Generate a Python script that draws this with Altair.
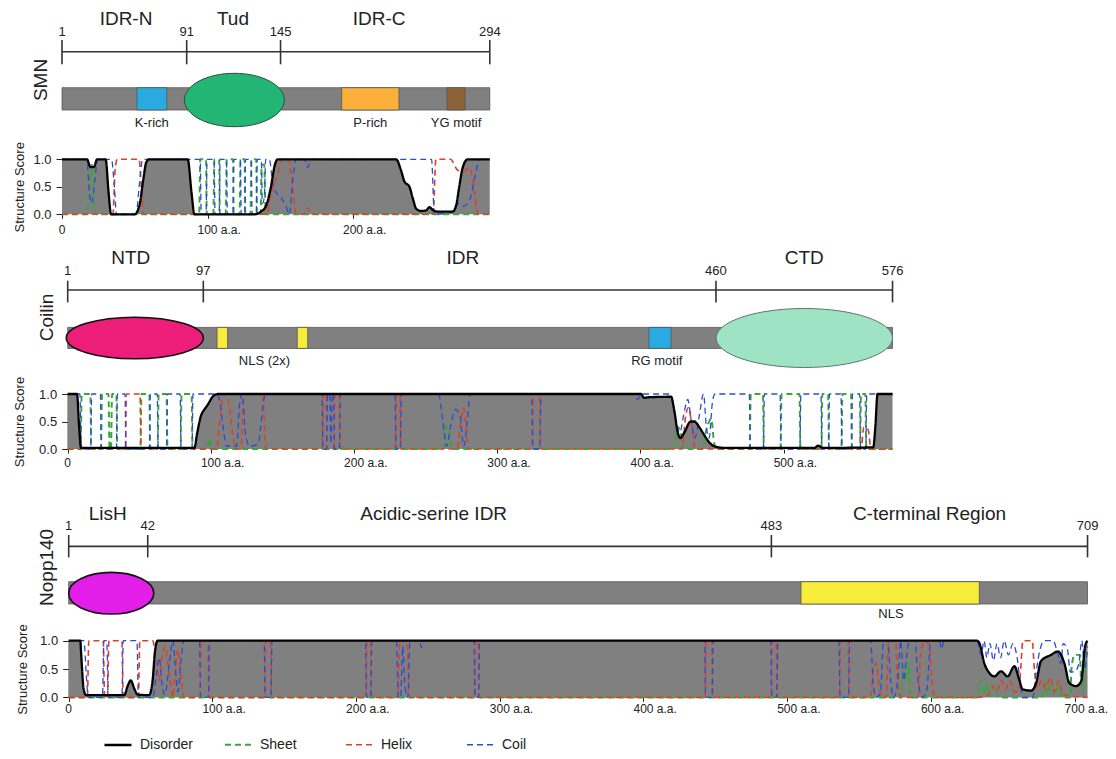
import altair as alt
import pandas as pd

# ------------------------------------------------------------------ data
# SMN
smn_length = 294
smn_ruler_pos = [0, 85.7, 150.2, 294]
smn_ruler_text = ["1", "91", "145", "294"]
smn_region_names = ["IDR-N", "Tud", "IDR-C"]
smn_region_pos = [44, 117.5, 218]
smn_box_names = ["K-rich", "P-rich", "YG motif"]
smn_box_start = [51.5, 192.2, 264.6]
smn_box_end = [72.0, 231.6, 277.0]
smn_label_text = ["K-rich", "P-rich", "YG motif"]
smn_label_pos = [61.7, 211.9, 270.8]
smn_oval_names = ["Tud"]
smn_oval_start = [84.1]
smn_oval_end = [152.8]
smn_axis_ticks = [0, 100, 200]
smn_disorder = [(0, 1), (17.2, 1), (19.5, 0.86), (22, 0.86), (24.1, 1), (30, 1), (32, 0.4), (33.7, 0), (50, 0),
                (53.5, 0.2), (55.7, 0.6), (58, 0.95), (60, 1), (86.4, 1), (89, 0.4), (91, 0), (132.2, 0),
                (136.8, 0.05), (140.2, 0.15), (143.6, 0.5), (146.3, 0.9), (148.2, 1), (229.6, 1), (233, 0.8),
                (235.3, 0.6), (238.8, 0.5), (241, 0.3), (243.5, 0.1), (246.9, 0.06), (250.2, 0.07), (252.5, 0.13),
                (254.8, 0.08), (258.2, 0.05), (268.5, 0.05), (270.8, 0.15), (273, 0.5), (275.4, 0.85), (278.8, 1),
                (294, 1)]
smn_sheet = [(0, 0), (17.5, 0), (19, 0.6), (20.5, 0.9), (22, 0.3), (23.5, 0), (94.3, 0), (95, 1), (99, 1), (99.5, 0),
             (104, 0), (104.7, 1), (108, 1), (108.5, 0), (112.5, 0), (113.2, 1), (117.5, 1), (118, 0), (122, 0),
             (122.7, 1), (125.5, 1), (126, 0), (129.5, 0), (130.2, 1), (133.5, 1), (134, 0), (136.5, 0), (137.2, 0.9),
             (139, 0.9), (140, 0), (294, 0)]
smn_helix = [(0, 0), (35, 0), (36.5, 0.8), (38, 1), (53, 1), (54.5, 0.5), (56, 0), (141, 0), (143, 0.3), (145, 0.5),
             (148, 0.7), (151, 1), (155.5, 1), (158.5, 0.5), (161, 0), (166, 0), (168.8, 0.12), (171, 0), (255, 0),
             (257, 1), (267, 1), (272, 0.8), (276, 0.78), (280, 0.85), (283, 0.5), (286, 0), (294, 0)]
smn_coil = [(0, 1), (17, 1), (19, 0.35), (20.5, 0.2), (22.5, 0.6), (24.5, 1), (34, 1), (36, 0.5), (37.5, 0), (51, 0),
            (53, 0.5), (55.5, 1), (95, 1), (95.7, 0), (99, 0), (99.7, 1), (104.5, 1), (105.2, 0), (108, 0),
            (108.7, 1), (113, 1), (113.7, 0), (117.5, 0), (118.2, 1), (122.5, 1), (123.2, 0), (125.5, 0),
            (126.2, 1), (130, 1), (130.7, 0), (133.5, 0), (134.2, 1), (137, 1), (137.7, 0.2), (139, 0.3), (140, 1),
            (142.5, 1), (144.7, 0.6), (148.2, 0.35), (150.5, 0.3), (153.9, 0.15), (156.2, 0), (158.5, 0.6),
            (160.8, 1), (166.5, 1), (168.8, 0.85), (171, 1), (254, 1), (255.9, 0), (268, 0.05), (272, 0.2),
            (276, 0.15), (280, 0.25), (284, 0.7), (286.8, 1), (294, 1)]

# Coilin
co_length = 576
co_ruler_pos = [0, 94.7, 452.7, 576]
co_ruler_text = ["1", "97", "460", "576"]
co_region_names = ["NTD", "IDR", "CTD"]
co_region_pos = [44, 276, 514.4]
co_box_names = ["NLS", "NLS", "RG motif"]
co_box_start = [104.3, 160.3, 405.9]
co_box_end = [111.7, 167.6, 421.3]
co_label_text = ["NLS (2x)", "RG motif"]
co_label_pos = [137.4, 411.4]
co_oval_names = ["NTD", "CTD"]
co_oval_start = [-1.0, 452.8]
co_oval_end = [94.7, 576]
co_axis_ticks = [0, 100, 200, 300, 400, 500]
co_disorder = [(0, 1), (6.5, 1), (8, 0.4), (9.3, 0.02), (88.4, 0.02), (90.5, 0.3), (93, 0.6), (95.5, 0.72),
               (97.7, 0.8), (101.2, 0.95), (104.7, 1), (400.4, 1), (402.5, 0.93), (405, 0.94), (421.3, 0.95),
               (423.6, 0.7), (426, 0.3), (427.8, 0.2), (430.6, 0.3), (435, 0.5), (437.6, 0.5), (441, 0.4),
               (444.6, 0.25), (448, 0.12), (451.6, 0.05), (458.6, 0.02), (521.5, 0.02), (523.9, 0.06),
               (527.4, 0.02), (562.5, 0.03), (564, 0.4), (565.5, 1), (576, 1)]
co_sheet = [(0, 0), (9, 0), (9.8, 1), (15.8, 1), (16.5, 0), (23.2, 0), (24, 1), (28.5, 1), (29.2, 0), (30.2, 0),
            (31, 1), (34, 1), (34.7, 0), (50.8, 0), (51.5, 1), (57, 1), (57.7, 0), (62.8, 0), (63.5, 1), (69, 1),
            (69.7, 0), (78.8, 0), (79.5, 1), (86.5, 1), (87.2, 0), (97, 0), (99, 0.2), (100.5, 0), (262, 0),
            (264.5, 0.42), (266.5, 0.3), (268, 0), (423, 0), (426, 0.4), (428, 0.3), (430, 0), (443, 0),
            (446, 0.35), (449.5, 0.55), (451, 0.2), (452.5, 0), (476.2, 0), (477, 1), (485.5, 1), (486.2, 0),
            (497.8, 0), (498.5, 1), (511, 1), (511.7, 0), (526.3, 0), (527, 1), (531, 1), (531.7, 0), (540.3, 0),
            (541, 1), (547, 1), (547.7, 0), (553.3, 0), (554, 1), (557, 1), (557.7, 0), (576, 0)]
co_helix = [(0, 0), (40.3, 0), (41, 1), (50.5, 1), (51.2, 0), (104, 0), (106.5, 0.6), (108.5, 1), (112, 0.9),
            (115, 0.3), (117.5, 0), (121, 0), (123, 1), (136, 1), (138.5, 0), (177.8, 0), (178.6, 1), (180.5, 1),
            (181.3, 0), (185.8, 0), (186.6, 1), (189.5, 1), (190.3, 0), (228.8, 0), (229.6, 1), (232, 1),
            (232.8, 0), (272, 0), (274.5, 0.5), (276.5, 0.75), (278.5, 0.3), (280, 0), (324.3, 0), (325.1, 1),
            (329.5, 1), (330.3, 0), (429, 0), (431.5, 0.6), (433.5, 0.75), (436, 0.4), (438, 0), (554, 0),
            (556, 0.4), (559, 0.35), (561, 0), (576, 0)]
co_coil = [(0, 1), (8.5, 1), (9.5, 0), (16, 0), (16.8, 1), (22.8, 1), (23.5, 0), (34, 0), (34.7, 1), (40, 1),
           (40.7, 0), (57, 0), (57.7, 1), (62.5, 1), (63.2, 0), (69, 0), (69.7, 1), (78.5, 1), (79.2, 0), (86.8, 0),
           (87.5, 1), (104, 1), (106, 0.9), (109, 0.3), (111, 0.05), (118, 0.05), (120, 0.8), (122, 1), (124, 0.3),
           (127, 0.05), (133, 0.1), (137, 0.9), (139, 1), (177.5, 1), (178.3, 0), (180.7, 0), (181.5, 1), (183, 1),
           (183.8, 0.1), (184.7, 1), (185.5, 1), (186.3, 0), (189.7, 0), (190.5, 1), (228.5, 1), (229.3, 0),
           (232.2, 0), (233, 1), (259, 1), (262, 0.5), (264.5, 0.05), (268, 0.5), (271, 0.72), (274, 0.6),
           (276.5, 0.05), (279, 0.5), (281, 1), (324, 1), (324.8, 0), (329.7, 0), (330.5, 1), (396, 1),
           (398, 0.9), (401, 1), (421, 1), (424, 0.6), (427.5, 0.3), (430, 0.6), (433, 0.9), (435.5, 0.5),
           (438, 0.2), (441, 0.6), (444, 1), (446, 0.4), (448, 0.2), (450, 0.8), (452, 1), (476, 1), (476.7, 0),
           (485.8, 0), (486.5, 1), (497.5, 1), (498.2, 0), (511.3, 0), (512, 1), (526, 1), (526.7, 0), (531.3, 0),
           (532, 1), (540, 1), (540.7, 0), (547.3, 0), (548, 1), (553, 1), (553.7, 0), (557.3, 0), (558, 1),
           (576, 1)]

# Nopp140
np_length = 709
np_ruler_pos = [0, 55, 489, 709]
np_ruler_text = ["1", "42", "483", "709"]
np_region_names = ["LisH", "Acidic-serine IDR", "C-terminal Region"]
np_region_pos = [27.1, 254, 599]
np_box_names = ["NLS"]
np_box_start = [509.6]
np_box_end = [633.7]
np_label_text = ["NLS"]
np_label_pos = [572.2]
np_oval_names = ["LisH"]
np_oval_start = [0]
np_oval_end = [59.2]
np_axis_ticks = [0, 100, 200, 300, 400, 500, 600, 700]
np_disorder = [(0, 1), (8.1, 1), (8.6, 0.8), (10.4, 0.15), (12, 0.04), (38.7, 0.04), (41, 0.2), (43.2, 0.3),
               (45.7, 0.15), (48, 0.05), (56, 0.04), (58.4, 0.3), (60, 0.8), (61.9, 1), (632, 1), (633.7, 0.96),
               (637.2, 0.6), (640.7, 0.43), (644.1, 0.37), (648.8, 0.46), (653.4, 0.37), (658.1, 0.55),
               (661.5, 0.31), (663.9, 0.14), (669.7, 0.12), (673.2, 0.25), (676.6, 0.64), (683.6, 0.75),
               (688.3, 0.81), (692.9, 0.6), (696.4, 0.25), (701, 0.2), (704.5, 0.28), (707.3, 0.9), (709, 1)]
np_sheet = [(0, 0), (579, 0), (581, 0.55), (583, 0.3), (584.5, 0.6), (586, 0), (632, 0), (635, 0.3), (637, 0.05),
            (639, 0.25), (641, 0.02), (644, 0.2), (647, 0), (677, 0), (679, 0.25), (681, 0.05), (684, 0.3),
            (686, 0.05), (689, 0.2), (691, 0), (697, 0), (697.8, 0.5), (700, 0.75), (703.7, 0.75), (704.5, 0.3),
            (706, 0.1), (707.5, 0.8), (709, 0.75)]
np_helix = [(0, 0), (13, 0), (14, 1), (24, 1), (25, 0), (27, 0), (28, 1), (37, 1), (38, 0), (48.5, 0), (49.5, 1),
            (58.5, 1), (61, 0.6), (63, 0.3), (65, 0.7), (67, 0.9), (70, 0.4), (72.5, 0), (74, 0.4), (76, 0.85),
            (78, 0.4), (80, 0), (91.3, 0), (92.1, 1), (96.9, 1), (97.7, 0), (136.3, 0), (137.1, 1), (140.4, 1),
            (141.2, 0), (206.8, 0), (207.6, 1), (209.9, 1), (210.7, 0), (229, 0), (230.5, 1), (235.5, 1), (237, 0),
            (282.3, 0), (283.1, 1), (284.9, 1), (285.7, 0), (442.8, 0), (443.6, 1), (447.4, 1), (448.2, 0),
            (488.8, 0), (489.6, 1), (492.4, 1), (493.2, 0), (536.3, 0), (537.1, 1), (542.4, 1), (543.2, 0),
            (558, 0), (560, 0.5), (562, 0.6), (564, 0.2), (566, 0), (569, 0), (570.5, 1), (575.5, 1), (577, 0.2),
            (579, 0), (591, 0), (593, 0.8), (596, 1), (599, 0.9), (601, 0.2), (603, 0), (632, 0), (640, 0.05),
            (643, 0.2), (646, 0.1), (649, 0.3), (652, 0.15), (655, 0.3), (658, 0.1), (661, 0.1), (662.5, 0.5),
            (664, 1), (670.5, 1), (672, 0.5), (674, 0.15), (677, 0.3), (680, 0.15), (683, 0.35), (686, 0.1),
            (689, 0.3), (692, 0.05), (709, 0)]
np_coil = [(0, 1), (10.5, 1), (12.5, 0.3), (13.5, 0), (23.5, 0), (24.5, 1), (26.5, 1), (27.5, 0), (37, 0), (38, 1),
           (47.5, 1), (48.5, 0), (58.5, 0), (61, 0.4), (63, 0.7), (65, 0.2), (67, 0.05), (70, 0.6), (72.5, 1),
           (74, 0.6), (76, 0.1), (78, 0.6), (80, 1), (91, 1), (91.8, 0), (97.2, 0), (98, 1), (136, 1), (136.8, 0),
           (140.7, 0), (141.5, 1), (206.5, 1), (207.3, 0), (210.2, 0), (211, 1), (228, 1), (229.5, 0), (231, 0),
           (232.5, 0.9), (234, 0.2), (236, 0), (237.5, 1), (244, 1), (245.5, 0.88), (247, 1), (282, 1),
           (282.8, 0), (285.2, 0), (286, 1), (442.5, 1), (443.3, 0), (447.7, 0), (448.5, 1), (488.5, 1),
           (489.3, 0), (492.7, 0), (493.5, 1), (536, 1), (536.8, 0), (542.7, 0), (543.5, 1), (558, 1),
           (560, 0.2), (562, 0), (565, 0.1), (567, 1), (570, 1), (572, 0.3), (574, 0), (577, 0.3), (579, 1),
           (581, 0.3), (583, 0.7), (585, 1), (589, 1), (591, 0.3), (594, 0), (597, 0.1), (600, 1), (606, 1),
           (607.5, 0.85), (609, 1), (632, 1), (635, 0.75), (637, 1), (639, 0.7), (641, 0.95), (643.5, 0.65),
           (646, 0.95), (648.5, 0.7), (651, 1), (654, 0.75), (657, 0.95), (660, 0.7), (662.5, 0.2), (664, 0),
           (671, 0), (673, 0.4), (676, 0.85), (679, 1), (685, 1), (688, 0.8), (690.5, 0.6), (692, 0.95),
           (695, 0.85), (697, 0.45), (700, 0.45), (703, 0.6), (705, 1), (707, 0.5), (709, 0.9)]

SERIES = ["Disorder", "Sheet", "Helix", "Coil"]

# ------------------------------------------------------------------ style
FONT = "Liberation Sans"
INK = "#222222"
BAR_GREY = "#808080"
SERIES_COLORS = ["#000000", "#3aa63a", "#e0402a", "#2a4bd7"]
SERIES_DASH = [[1, 0], [6, 4], [6, 4], [6, 4]]
SERIES_WIDTH = [2.3, 1.3, 1.3, 1.3]
BOX_FILL = {"K-rich": "#29abe2", "P-rich": "#fbb03b", "YG motif": "#8c6239",
            "NLS": "#f7ec3a", "RG motif": "#29abe2"}
# fill, outline, outline width, height in px
OVAL_STYLE = {"Tud": ("#22b573", "#2d4d3a", 1.0, 53.4), "NTD": ("#ed1e79", "#111111", 1.6, 41.6),
              "CTD": ("#9de3c4", "#5a7a6c", 1.0, 59.0), "LisH": ("#e31ee8", "#111111", 1.6, 41.6)}

LAYOUT = {
    "SMN": dict(dmin=0.0, k=1.455, name_y=11.2, tick_lab_y=24, ruler_y=43.7, tick_y=(32, 56.3),
                bar_y=(79.7, 102), oval_y=92, label_y=115, title_xy=(-21, 72), score_px=(206.3, 151.3),
                xlab_dy=15.7, y_offset=0, title_pad=6),
    "Coilin": dict(dmin=-3.98, k=1.432, name_y=43.4, tick_lab_y=55.7, ruler_y=75, tick_y=(65.7, 87.4),
                   bar_y=(112.4, 133.4), oval_y=123, label_y=145.7, title_xy=(-15.5, 102.4),
                   score_px=(234, 179), xlab_dy=14, y_offset=-5.7, title_pad=12.2),
    "Nopp140": dict(dmin=-4.66, k=1.437, name_y=65, tick_lab_y=77.4, ruler_y=97.4, tick_y=(86, 108.4),
                    bar_y=(132.7, 155), oval_y=144.2, label_y=165, title_xy=(-15.3, 118.4),
                    score_px=(248.4, 191.7), xlab_dy=11.6, y_offset=-6.7, title_pad=10.5),
}

KAPPA = 0.5523


def oval_path(r):
    a = KAPPA * r
    return (f"M -1 0 C -1 {-a:.4f} {-KAPPA} {-r:.4f} 0 {-r:.4f} "
            f"C {KAPPA} {-r:.4f} 1 {-a:.4f} 1 0 "
            f"C 1 {a:.4f} {KAPPA} {r:.4f} 0 {r:.4f} "
            f"C {-KAPPA} {r:.4f} -1 {a:.4f} -1 0 Z")


legend = alt.Legend(title=None, orient="none", legendX=41, legendY=722, direction="horizontal",
                    symbolType="stroke", symbolSize=729, labelFontSize=14, labelColor=INK,
                    labelOffset=7, columnPadding=28, gridAlign="all")
color_enc = alt.Color("series:N", scale=alt.Scale(domain=SERIES, range=SERIES_COLORS), legend=legend)
dash_enc = alt.StrokeDash("series:N", scale=alt.Scale(domain=SERIES, range=SERIES_DASH), legend=legend)
width_enc = alt.StrokeWidth("series:N", scale=alt.Scale(domain=SERIES, range=SERIES_WIDTH), legend=legend)


def series_frame(pairs, name):
    return pd.DataFrame({"aa": [p[0] for p in pairs], "v": [p[1] for p in pairs], "series": name})


def protein_chart(name, length, ruler_pos, ruler_text, region_names, region_pos, box_names, box_start,
                  box_end, label_text, label_pos, oval_names, oval_start, oval_end, ticks,
                  disorder, sheet, helix, coil):
    L = LAYOUT[name]
    width = (length - L["dmin"]) * L["k"]
    H, top = L["score_px"]
    xs = alt.Scale(domain=[L["dmin"], length], nice=False, zero=False)
    xax = alt.Axis(values=ticks, labels=False, title=None, domain=False, grid=False, tickSize=4,
                   tickColor=INK, tickWidth=1)
    ys = alt.Scale(domain=[0, 1], range=[H, top], nice=False, zero=False)
    yax = alt.Axis(values=[0, 0.5, 1], format=".1f", title="Structure Score", titleFontSize=13,
                   titleFontWeight="normal", titleColor=INK, titlePadding=L["title_pad"], labelFontSize=13,
                   labelColor=INK, labelPadding=5, tickSize=6, tickColor=INK, domainColor=INK, grid=False,
                   offset=L["y_offset"])

    def X(f):
        return alt.X(f, type="quantitative", scale=xs, axis=xax)

    def Y(f):
        return alt.Y(f, type="quantitative", scale=ys, axis=yax)

    layers = []
    # ruler
    ruler_df = pd.DataFrame({"s": [ruler_pos[0]], "e": [ruler_pos[-1]]})
    layers.append(alt.Chart(ruler_df).mark_rule(color="#333333", strokeWidth=1.6).encode(
        x=X("s"), x2="e", y=alt.value(L["ruler_y"])))
    tick_df = pd.DataFrame({"p": ruler_pos, "t": ruler_text})
    layers.append(alt.Chart(tick_df).mark_rule(color="#333333", strokeWidth=1.6).encode(
        x=X("p"), y=alt.value(L["tick_y"][0]), y2=alt.value(L["tick_y"][1])))
    layers.append(alt.Chart(tick_df).mark_text(fontSize=13, color=INK).encode(
        x=X("p"), y=alt.value(L["tick_lab_y"]), text="t:N"))
    reg_df = pd.DataFrame({"p": region_pos, "t": region_names})
    layers.append(alt.Chart(reg_df).mark_text(fontSize=19, color=INK).encode(
        x=X("p"), y=alt.value(L["name_y"]), text="t:N"))
    # bar + boxes
    bar_df = pd.DataFrame({"s": [0], "e": [length]})
    layers.append(alt.Chart(bar_df).mark_rect(fill=BAR_GREY, stroke="#555555", strokeWidth=0.8).encode(
        x=X("s"), x2="e", y=alt.value(L["bar_y"][0]), y2=alt.value(L["bar_y"][1])))
    box_df = pd.DataFrame({"s": box_start, "e": box_end, "c": [BOX_FILL[b] for b in box_names]})
    layers.append(alt.Chart(box_df).mark_rect(stroke="#555555", strokeWidth=0.8).encode(
        x=X("s"), x2="e", y=alt.value(L["bar_y"][0]), y2=alt.value(L["bar_y"][1]),
        fill=alt.Fill("c:N", scale=None, legend=None)))
    # ovals (globular domains)
    for on, os_, oe in zip(oval_names, oval_start, oval_end):
        fill, stroke, sw, hpx = OVAL_STYLE[on]
        wpx = (oe - os_) * L["k"]
        odf = pd.DataFrame({"c": [(os_ + oe) / 2]})
        layers.append(alt.Chart(odf).mark_point(
            shape=oval_path(hpx / wpx), filled=True, fill=fill, stroke=stroke, strokeWidth=sw,
            opacity=1, size=wpx * wpx).encode(x=X("c"), y=alt.value(L["oval_y"])))
    lab_df = pd.DataFrame({"p": label_pos, "t": label_text})
    layers.append(alt.Chart(lab_df).mark_text(fontSize=13, color=INK).encode(
        x=X("p"), y=alt.value(L["label_y"]), text="t:N"))
    # protein name
    name_df = pd.DataFrame({"t": [name]})
    layers.append(alt.Chart(name_df).mark_text(fontSize=19, color=INK, angle=270).encode(
        x=alt.value(L["title_xy"][0]), y=alt.value(L["title_xy"][1]), text="t:N"))
    # structure score
    dis_df = series_frame(disorder, "Disorder")
    sec_df = pd.concat([series_frame(sheet, "Sheet"), series_frame(helix, "Helix"), series_frame(coil, "Coil")])
    layers.append(alt.Chart(dis_df).mark_area(color=BAR_GREY, interpolate="monotone").encode(
        x=X("aa"), y=Y("v")))
    layers.append(alt.Chart(sec_df).mark_line(interpolate="monotone").encode(
        x=X("aa"), y=Y("v"), color=color_enc, strokeDash=dash_enc, strokeWidth=width_enc))
    layers.append(alt.Chart(dis_df).mark_line(interpolate="monotone").encode(
        x=X("aa"), y=Y("v"), color=color_enc, strokeDash=dash_enc, strokeWidth=width_enc))
    # x tick labels
    t_df = pd.DataFrame({"p": ticks, "t": ["0" if t == 0 else f"{t} a.a." for t in ticks]})
    layers.append(alt.Chart(t_df[t_df.p == 0]).mark_text(fontSize=12, color=INK).encode(
        x=X("p"), y=alt.value(H + L["xlab_dy"]), text="t:N"))
    layers.append(alt.Chart(t_df[t_df.p != 0]).mark_text(fontSize=12, color=INK, align="left", dx=-10).encode(
        x=X("p"), y=alt.value(H + L["xlab_dy"]), text="t:N"))
    return alt.layer(*layers).properties(width=width, height=H)


smn_chart = protein_chart("SMN", smn_length, smn_ruler_pos, smn_ruler_text, smn_region_names, smn_region_pos,
                          smn_box_names, smn_box_start, smn_box_end, smn_label_text, smn_label_pos,
                          smn_oval_names, smn_oval_start, smn_oval_end, smn_axis_ticks,
                          smn_disorder, smn_sheet, smn_helix, smn_coil)
co_chart = protein_chart("Coilin", co_length, co_ruler_pos, co_ruler_text, co_region_names, co_region_pos,
                         co_box_names, co_box_start, co_box_end, co_label_text, co_label_pos,
                         co_oval_names, co_oval_start, co_oval_end, co_axis_ticks,
                         co_disorder, co_sheet, co_helix, co_coil)
np_chart = protein_chart("Nopp140", np_length, np_ruler_pos, np_ruler_text, np_region_names, np_region_pos,
                         np_box_names, np_box_start, np_box_end, np_label_text, np_label_pos,
                         np_oval_names, np_oval_start, np_oval_end, np_axis_ticks,
                         np_disorder, np_sheet, np_helix, np_coil)

chart = (alt.vconcat(smn_chart, co_chart, np_chart, spacing=0, bounds="flush")
         .resolve_scale(x="independent", y="independent", color="shared", strokeDash="shared",
                        strokeWidth="shared")
         .properties(padding={"left": 5, "top": 0, "right": 0, "bottom": 0})
         .configure(font=FONT)
         .configure_view(stroke=None))

chart.save("out.html", embed_options={"renderer": "svg", "actions": False})
